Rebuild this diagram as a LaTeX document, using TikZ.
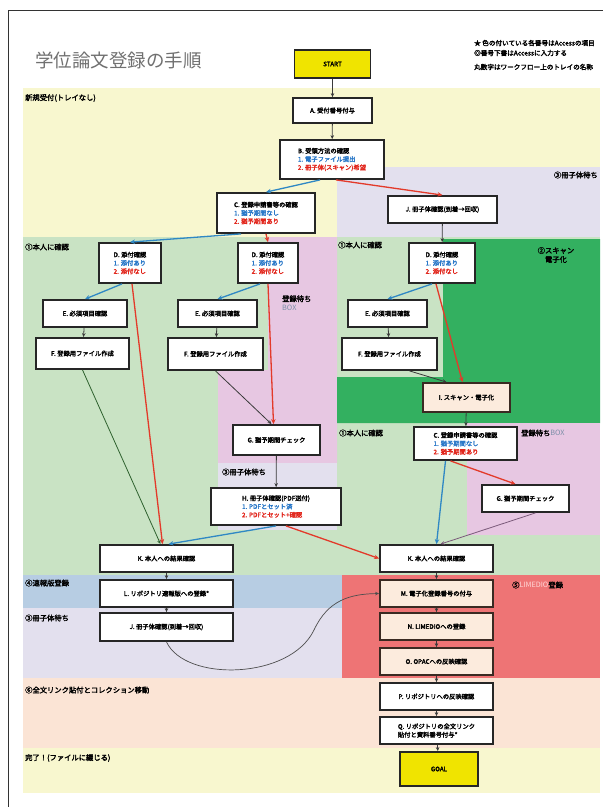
\documentclass[tikz,border=0pt]{standalone}
\usepackage{fontspec}
\setmainfont{Noto Sans CJK JP}[AutoFakeBold=2.5]
\usetikzlibrary{arrows.meta}
\definecolor{bandyel}{HTML}{F8F7CF}
\definecolor{bandlav}{HTML}{E3E0EE}
\definecolor{bandgrn}{HTML}{C9E3C4}
\definecolor{bandpnk}{HTML}{E7C7E2}
\definecolor{banddg}{HTML}{33B060}
\definecolor{bandblu}{HTML}{B7CDE3}
\definecolor{bandred}{HTML}{EE7475}
\definecolor{bandpch}{HTML}{FBE4D5}
\definecolor{goalyel}{HTML}{F0E400}
\definecolor{boxline}{HTML}{262626}
\definecolor{brownline}{HTML}{3A2A22}
\definecolor{peachnode}{HTML}{FCEBDD}
\definecolor{itb}{HTML}{2A78C8}
\definecolor{itr}{HTML}{E2261C}
\definecolor{lnb}{HTML}{2F88C4}
\definecolor{lnr}{HTML}{E33A2A}
\definecolor{lng}{HTML}{3A3A3A}
\definecolor{lnp}{HTML}{7A5A7A}
\definecolor{titlegray}{HTML}{707070}
\definecolor{boxgray}{HTML}{7C8FA8}
\begin{document}
\begin{tikzpicture}[x=1pt,y=-1pt,
  box/.style={draw=boxline, line width=1.8pt, fill=white, inner sep=1pt,
    font=\fontsize{6.3}{8.3}\selectfont\bfseries, align=left},
  pbox/.style={box, draw=brownline, fill=peachnode},
  goalbox/.style={box, fill=goalyel, align=center},
  lab/.style={anchor=west, inner sep=0pt, font=\fontsize{7.3}{9}\selectfont\bfseries},
  note/.style={anchor=west, inner sep=0pt, font=\fontsize{6.6}{8}\selectfont\bfseries},
  arr/.style={-{Stealth[length=4pt,width=3.5pt]}, line width=0.8pt, draw=lng},
  barr/.style={-{Stealth[length=5pt,width=4.5pt]}, line width=1.3pt, draw=lnb},
  rarr/.style={-{Stealth[length=5pt,width=4.5pt]}, line width=1.3pt, draw=lnr},
  tarr/.style={-{Stealth[length=4pt,width=3.5pt]}, line width=0.8pt, draw=lng!80!green}]
\useasboundingbox (0,0) rectangle (608,807);
\fill[white] (0,0) rectangle (608,807);
% bands
\fill[bandyel] (23,88) rectangle (600,167);
\fill[bandyel] (23,167) rectangle (337,237);
\fill[bandlav] (337,167) rectangle (600,239);
\fill[bandgrn] (23,237) rectangle (600,575);
\fill[bandpnk] (268,237) -- (337,237) -- (337,463) -- (218,463) -- (218,370) -- (268,370) -- cycle;
\fill[bandlav] (218,463) rectangle (337,530);
\fill[banddg] (443,239) -- (600,239) -- (600,423) -- (337,423) -- (337,377) -- (443,377) -- cycle;
\fill[bandpnk] (467,423) rectangle (600,535);
\fill[bandblu] (23,575) rectangle (342,608);
\fill[bandlav] (23,608) rectangle (342,678);
\fill[bandred] (342,575) rectangle (600,678);
\fill[bandpch] (23,678) rectangle (600,748);
\fill[bandyel] (23,748) rectangle (600,793);
% frame
\draw[line width=1pt, black!80] (8,807) -- (8,10) -- (603,10);
% title and notes
\node[anchor=west, inner sep=0pt, text=titlegray, font=\fontsize{18.5}{20}\selectfont] (title) at (35,60) {学位論文登録の手順};
\begin{scope}
\clip (460,30) rectangle (600,80);
\node[note] (note1) at (474,43) {★ 色の付いている各番号はAccessの項目};
\node[note] (note2) at (474,53) {◎番号下書はAccessに入力する};
\node[note] (note3) at (474,67) {丸数字はワークフロー上のトレイの名称};
\end{scope}
% band labels
\node[lab] (l1) at (25,98) {新規受付(トレイなし)};
\node[lab, anchor=east] (l2) at (598,175) {③冊子体待ち};
\node[lab] (l3) at (25,247) {①本人に確認};
\node[lab] (l4) at (338,245) {①本人に確認};
\node[lab, anchor=center, align=center] (l5) at (556,255) {②スキャン\\電子化};
\node[lab, align=left] (l6) at (282,303) {登録待ち\\{\mdseries\color{boxgray}BOX}};
\node[lab] (l7) at (222,472) {③冊子体待ち};
\node[lab] (l8) at (339,433) {①本人に確認};
\node[lab] (l9) at (521,433) {登録待ち{\mdseries\color{boxgray}BOX}};
\node[lab] (l10) at (25,583) {④速報版登録};
\node[lab] (l11) at (25,618) {③冊子体待ち};
\node[lab] (l12) at (512,585) {⑤{\mdseries\color{white!85!red}LIMEDIO}登録};
\node[lab] (l13) at (25,690) {⑥全文リンク貼付とコレクション移動};
\node[lab] (l14) at (25,758) {完了！(ファイルに綴じる)};
% nodes
\node[goalbox, minimum width=76pt, minimum height=28pt] (start) at (332.5,64) {START};
\node[box, minimum width=79pt, minimum height=25pt] (A) at (332.5,110.5) {A. 受付番号付与};
\node[box, minimum width=104pt, minimum height=39pt] (B) at (332,159.5) {B. 受領方法の確認\\{\color{itb}1. 電子ファイル提出}\\{\color{itr}2. 冊子体(スキャン)希望}};
\node[box, minimum width=98pt, minimum height=40pt] (Ct) at (266,213) {C. 登録申請書等の確認\\{\color{itb}1. 猶予期間なし}\\{\color{itr}2. 猶予期間あり}};
\node[box, minimum width=109pt, minimum height=27pt] (Jr) at (442.5,209.5) {J. 冊子体確認(到着→回収)};
\node[box, minimum width=62pt, minimum height=40pt] (Dl) at (130,263) {D. 添付確認\\{\color{itb}1. 添付あり}\\{\color{itr}2. 添付なし}};
\node[box, minimum width=60pt, minimum height=40pt] (Dm) at (268,263) {D. 添付確認\\{\color{itb}1. 添付あり}\\{\color{itr}2. 添付なし}};
\node[box, minimum width=66pt, minimum height=40pt] (Dr) at (442,263) {D. 添付確認\\{\color{itb}1. 添付あり}\\{\color{itr}2. 添付なし}};
\node[box, minimum width=84pt, minimum height=27pt] (El) at (85,313.5) {E. 必須項目確認};
\node[box, minimum width=79pt, minimum height=27pt] (Em) at (217.5,313.5) {E. 必須項目確認};
\node[box, minimum width=79pt, minimum height=27pt] (Er) at (387.5,313.5) {E. 必須項目確認};
\node[box, minimum width=93pt, minimum height=31pt] (Fl) at (82.5,353.5) {F. 登録用ファイル作成};
\node[box, minimum width=95pt, minimum height=32pt] (Fm) at (215.5,354) {F. 登録用ファイル作成};
\node[box, minimum width=95pt, minimum height=32pt] (Fr) at (389.5,354) {F. 登録用ファイル作成};
\node[pbox, minimum width=87pt, minimum height=29pt] (I) at (466.5,397.5) {I. スキャン・電子化};
\node[box, minimum width=103pt, minimum height=33pt] (Cr) at (465.5,443.5) {C. 登録申請書等の確認\\{\color{itb}1. 猶予期間なし}\\{\color{itr}2. 猶予期間あり}};
\node[box, minimum width=87pt, minimum height=30pt] (Gm) at (276.5,440) {G. 猶予期間チェック};
\node[box, minimum width=87pt, minimum height=27pt] (Gr) at (525.5,498.5) {G. 猶予期間チェック};
\node[box, minimum width=130pt, minimum height=37pt] (H) at (276,506.5) {H. 冊子体確認(PDF送付)\\{\color{itb}1. PDFとセット済}\\{\color{itr}2. PDFとセット+確認}};
\node[box, minimum width=133pt, minimum height=27pt] (Kl) at (166.5,558.5) {K. 本人への結果確認};
\node[box, minimum width=113pt, minimum height=27pt] (Kr) at (436.5,558.5) {K. 本人への結果確認};
\node[box, minimum width=133pt, minimum height=27pt] (L) at (166.5,593.5) {L. リポジトリ速報版への登録*};
\node[box, minimum width=133pt, minimum height=28pt] (Jl) at (166.5,627) {J. 冊子体確認(到着→回収)};
\node[pbox, minimum width=113pt, minimum height=27pt] (M) at (436.5,593.5) {M. 電子化登録番号の付与};
\node[pbox, minimum width=113pt, minimum height=27pt] (N) at (436.5,626.5) {N. LIMEDIOへの登録};
\node[pbox, minimum width=113pt, minimum height=27pt] (O) at (436.5,661.5) {O. OPACへの反映確認};
\node[box, minimum width=113pt, minimum height=27pt] (P) at (436.5,696.5) {P. リポジトリへの反映確認};
\node[box, minimum width=113pt, minimum height=27pt] (Q) at (436.5,730.5) {Q. リポジトリの全文リンク\\貼付と資料番号付与*};
\node[goalbox, minimum width=78pt, minimum height=34pt] (goal) at (439,769) {GOAL};
% connectors
\draw[arr] (start) -- (A);
\draw[arr] (A) -- (B);
\draw[barr] ([xshift=-12pt]B.south) -- (Ct.north);
\draw[rarr] ([xshift=4pt]B.south) -- (Jr.north);
\draw[barr] ([xshift=-25pt]Ct.south) -- (Dl.north);
\draw[rarr] (Ct.south) -- (Dm.north);
\draw[barr] ([xshift=-8pt]Dl.south) -- (El.north);
\draw[rarr] ([xshift=2pt]Dl.south) -- ([xshift=-4pt]Kl.north);
\draw[arr] (El) -- (Fl);
\draw[tarr] (Fl.south) -- ([xshift=-6pt]Kl.north);
\draw[barr] ([xshift=-8pt]Dm.south) -- (Em.north);
\draw[rarr] (Dm.south) -- ([xshift=-3pt]Gm.north);
\draw[arr] (Em) -- (Fm);
\draw[arr] (Fm.south) -- ([xshift=-5pt]Gm.north);
\draw[arr] (Gm) -- (H);
\draw[barr] (H.south) -- ([xshift=2pt]Kl.north);
\draw[rarr] ([xshift=10pt]H.south) -- (Kr.west);
\draw[arr] (Jr) -- (Dr);
\draw[barr] ([xshift=-10pt]Dr.south) -- (Er.north);
\draw[rarr] ([xshift=-6pt]Dr.south) -- ([xshift=-4pt]I.north);
\draw[arr] (Er) -- (Fr);
\draw[arr] ([xshift=20pt]Fr.south) -- ([xshift=-20pt]I.north);
\draw[arr] (I) -- (Cr);
\draw[barr] ([xshift=-20pt]Cr.south) -- (Kr.north);
\draw[rarr] ([xshift=-15pt]Cr.south) -- ([xshift=-10pt]Gr.north);
\draw[-{Stealth[length=4pt,width=3.5pt]}, line width=0.8pt, draw=lnp] ([xshift=10pt]Gr.south) -- ([xshift=4pt]Kr.north);
\draw[arr] (Kl) -- (L);
\draw[arr] (L) -- (Jl);
\draw[arr, line width=0.7pt, draw=lng!90] (Jl.south) .. controls (185,682) and (290,680) .. (314,630) .. controls (328,600) and (350,594) .. (M.west);
\draw[arr] (Kr) -- (M);
\draw[arr] (M) -- (N);
\draw[arr] (N) -- (O);
\draw[arr] (O) -- (P);
\draw[arr] (P) -- (Q);
\draw[arr] (Q) -- (goal);
\end{tikzpicture}
\end{document}
